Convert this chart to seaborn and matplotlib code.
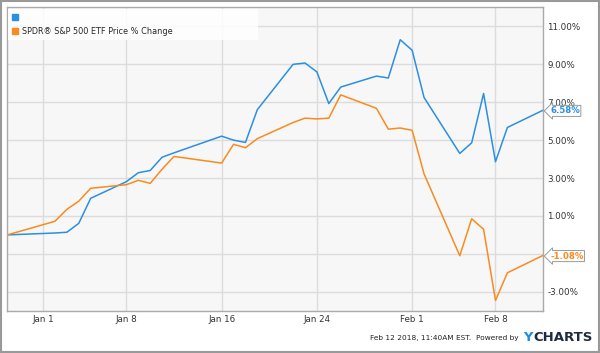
import matplotlib
matplotlib.use("Agg")
import matplotlib.pyplot as plt
from matplotlib.lines import Line2D
import matplotlib.transforms as mtransforms
import seaborn as sns
import pandas as pd

# trading days, Dec 29 2017 - Feb 12 2018
dates = ["2017-12-29", "2018-01-02", "2018-01-03", "2018-01-04", "2018-01-05",
         "2018-01-08", "2018-01-09", "2018-01-10", "2018-01-11", "2018-01-12",
         "2018-01-16", "2018-01-17", "2018-01-18", "2018-01-19",
         "2018-01-22", "2018-01-23", "2018-01-24", "2018-01-25", "2018-01-26",
         "2018-01-29", "2018-01-30", "2018-01-31", "2018-02-01", "2018-02-02",
         "2018-02-05", "2018-02-06", "2018-02-07", "2018-02-08", "2018-02-09",
         "2018-02-12"]

stock_pct = [0.0, 0.10, 0.14, 0.61, 1.93,
             2.81, 3.28, 3.40, 4.10, 4.33,
             5.21, 5.00, 4.88, 6.61,
             9.00, 9.07, 8.60, 6.93, 7.80,
             8.38, 8.28, 10.30, 9.74, 7.25,
             4.30, 4.86, 7.46, 3.86, 5.67,
             6.58]

spy_pct = [0.0, 0.72, 1.35, 1.78, 2.46,
           2.65, 2.88, 2.72, 3.47, 4.14,
           3.79, 4.78, 4.60, 5.08,
           5.93, 6.16, 6.12, 6.16, 7.39,
           6.68, 5.58, 5.64, 5.52, 3.22,
           -1.10, 0.85, 0.30, -3.46, -2.00,
           -1.08]

series_names = ["", "SPDR\u00ae S&P 500 ETF Price % Change"]
colors = ["#2b8fe3", "#f98b1f"]

y_ticks = [-3, -1, 1, 3, 5, 7, 9, 11]
x_ticks = ["2018-01-01", "2018-01-08", "2018-01-16", "2018-01-24", "2018-02-01", "2018-02-08"]
x_tick_labels = ["Jan 1", "Jan 8", "Jan 16", "Jan 24", "Feb 1", "Feb 8"]

df = pd.DataFrame({
    "date": pd.to_datetime(dates * 2),
    "pct": stock_pct + spy_pct,
    "series": ["blue"] * len(dates) + ["orange"] * len(dates),
})

sns.set_style("white")
plt.rcParams["font.family"] = ["DejaVu Sans"]

fig = plt.figure(figsize=(6.0, 3.53), dpi=100)
ax = fig.add_axes([0.0122, 0.1198, 0.893, 0.859])
ax.set_facecolor("#f7f7f7")

sns.lineplot(data=df, x="date", y="pct", hue="series",
             palette={"blue": colors[0], "orange": colors[1]},
             linewidth=1.1, legend=False, ax=ax)

ax.set_xlim(pd.Timestamp("2017-12-29"), pd.Timestamp("2018-02-12"))
ax.set_ylim(-4, 12)

ax.set_xticks(pd.to_datetime(x_ticks))
ax.set_xticklabels(x_tick_labels, fontsize=6.3, color="#333333")
ax.set_yticks(y_ticks)
ax.set_yticklabels([("%.2f%%" % v) if v != -1 else "" for v in y_ticks],
                   fontsize=6.3, color="#333333")
ax.yaxis.tick_right()
ax.tick_params(axis="both", length=0, pad=3)
ax.set_xlabel("")
ax.set_ylabel("")
ax.grid(True, color="#dcdcdc", linewidth=1.0)
ax.set_axisbelow(True)
for s in ax.spines.values():
    s.set_color("#aaaaaa")
    s.set_linewidth(1.0)

# legend
handles = [Line2D([], [], marker="s", linestyle="none", markersize=4.5,
                  markerfacecolor=c, markeredgecolor=c) for c in colors]
leg = ax.legend(handles, series_names, loc="upper left",
                bbox_to_anchor=(0.002, 0.995, 0.465, 0), mode="expand",
                fontsize=5.9, frameon=True, fancybox=False, framealpha=0.85,
                handlelength=0.6, handletextpad=0.55, labelspacing=0.6,
                borderpad=0.5, borderaxespad=0)
leg.get_frame().set_facecolor("white")
leg.get_frame().set_edgecolor("none")

# last value tags at the right edge
trans = mtransforms.blended_transform_factory(ax.transAxes, ax.transData)
for vals, c in zip([stock_pct, spy_pct], colors):
    ax.annotate("%.2f%%" % vals[-1], xy=(1.0, vals[-1]), xycoords=trans,
                xytext=(5, -0.5), textcoords="offset points", ha="left", va="center",
                fontsize=6.2, fontweight="bold", color=c, annotation_clip=False,
                bbox=dict(boxstyle="larrow,pad=0.12", fc="white", ec="#999999", lw=0.7))

# footer
fig.text(0.865, 0.043, "Feb 12 2018, 11:40AM EST.  Powered by", ha="right", va="center",
         fontsize=5.3, color="#222222")
charts = fig.text(0.988, 0.045, "CHARTS", ha="right", va="center", fontsize=9.5,
                  fontweight="bold", color="#1c2b3d")
fig.canvas.draw()
bb = charts.get_window_extent().transformed(fig.transFigure.inverted())
fig.text(bb.x0 - 0.001, 0.045, "Y", ha="right", va="center", fontsize=9.5,
         fontweight="bold", color="#1b8ce3")

# outer border
fig.patches.append(plt.Rectangle((0.001, 0.002), 0.997, 0.996, transform=fig.transFigure,
                                 fill=False, ec="#999999", lw=1.5))

fig.savefig("out.png", dpi=100)
